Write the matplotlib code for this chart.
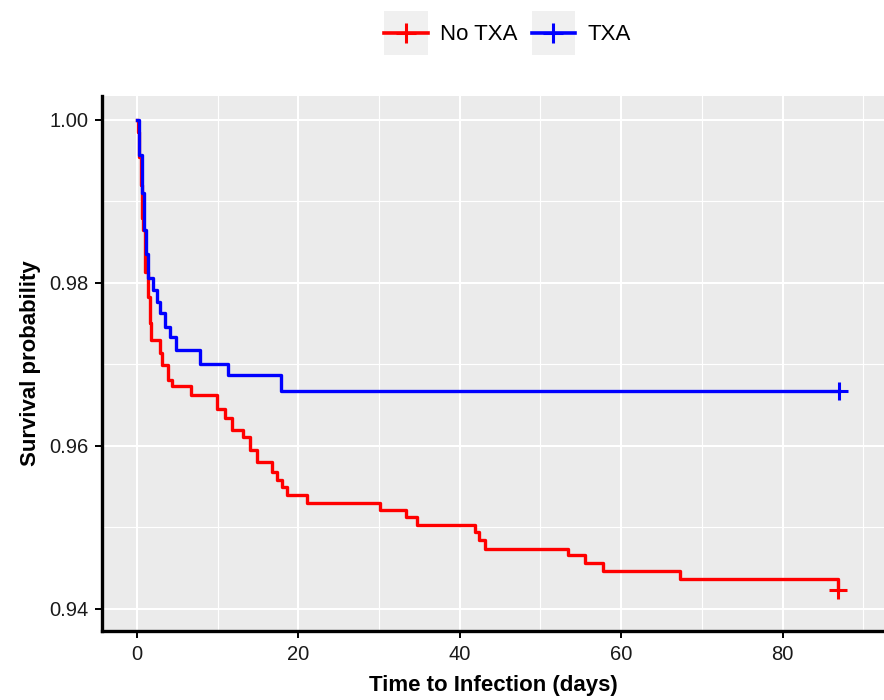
import matplotlib
matplotlib.use("Agg")
import matplotlib.pyplot as plt
from matplotlib.lines import Line2D
from matplotlib.patches import Rectangle
from matplotlib.legend_handler import HandlerLine2D

plt.rcParams["font.family"] = ["Liberation Sans", "DejaVu Sans"]

# Kaplan-Meier steps: (event time, survival after it)
notxa_time = [0, 0.15, 0.3, 0.45, 0.6, 0.8, 1.05, 1.35, 1.55, 1.75, 2.8, 3.1, 3.9,
              4.3, 6.7, 9.95, 10.9, 11.8, 13.1, 14.0, 14.9, 16.7, 17.4, 18.0,
              18.6, 21.1, 30.1, 33.3, 34.7, 41.9, 42.4, 43.1, 53.4, 55.5, 57.7,
              67.3, 86.9]
notxa_surv = [1.0, 0.9985, 0.9955, 0.9920, 0.9880, 0.9865, 0.9814, 0.9783, 0.9751,
              0.9730, 0.9714, 0.9699, 0.9681, 0.9673, 0.9663, 0.9645, 0.9634,
              0.9620, 0.9611, 0.9595, 0.9580, 0.9568, 0.9558, 0.9550, 0.9540,
              0.9530, 0.9521, 0.9513, 0.9503, 0.9495, 0.9485, 0.9474, 0.9466,
              0.9457, 0.9447, 0.9437, 0.9423]

txa_time = [0, 0.25, 0.65, 0.9, 1.1, 1.4, 2.0, 2.45, 2.9, 3.5, 4.1, 4.8, 7.8,
            11.3, 17.9, 87.0]
txa_surv = [1.0, 0.9957, 0.9910, 0.9865, 0.9836, 0.9806, 0.9791, 0.9777, 0.9763,
            0.9746, 0.9734, 0.9718, 0.9701, 0.9687, 0.9668, 0.9668]

groups = ["No TXA", "TXA"]
colors = ["#FF0000", "#0000FF"]


class KeyHandler(HandlerLine2D):
    # ggplot style legend key: grey box behind the line glyph
    def create_artists(self, legend, orig_handle, xdescent, ydescent,
                       width, height, fontsize, trans):
        bg = Rectangle((-xdescent, -ydescent - 0.9 * height), width, height * 2.8,
                       facecolor="#F0F0F0", edgecolor="none", transform=trans)
        arts = super().create_artists(legend, orig_handle, xdescent, ydescent,
                                      width, height, fontsize, trans)
        return [bg] + arts


fig = plt.figure(figsize=(8.84, 7.0), dpi=100)
ax = fig.add_axes([102 / 884, 1 - 631 / 700, (884 - 102) / 884, (631 - 96) / 700])
ax.set_facecolor("#EBEBEB")

for t, s, c in zip([notxa_time, txa_time], [notxa_surv, txa_surv], colors):
    ax.step(t, s, where="post", color=c, lw=2.4, zorder=3)
    ax.plot(t[-1], s[-1], marker="+", color=c, ms=13, mew=2.2, zorder=4)

ax.set_xlim(-4.34, 92.57)
ax.set_ylim(0.9373, 1.00294)
ax.set_xticks([0, 20, 40, 60, 80])
ax.set_xticks([10, 30, 50, 70, 90], minor=True)
ax.set_yticks([0.94, 0.96, 0.98, 1.00])
ax.set_yticklabels(["0.94", "0.96", "0.98", "1.00"])
ax.set_yticks([0.95, 0.97, 0.99], minor=True)
ax.grid(True, which="major", color="white", lw=1.5)
ax.grid(True, which="minor", color="white", lw=0.8)
ax.set_axisbelow(True)

for side in ["top", "right"]:
    ax.spines[side].set_visible(False)
for side in ["left", "bottom"]:
    ax.spines[side].set_linewidth(2.4)
    ax.spines[side].set_color("black")

ax.tick_params(which="major", length=5, width=1.4, color="black",
               labelsize=14.5, labelcolor="#1a1a1a", pad=5)
ax.tick_params(which="minor", length=0)

ax.set_xlabel("Time to Infection (days)", fontsize=16, fontweight="bold", labelpad=8)
ax.set_ylabel("Survival probability", fontsize=16, fontweight="bold", labelpad=6)

handles = [Line2D([], [], color=c, lw=2.6, marker="+", ms=14, mew=2.2) for c in colors]
fig.legend(handles, groups, loc="center", bbox_to_anchor=(0.574, 0.950), ncol=2,
           frameon=False, fontsize=16, handlelength=1.95, handletextpad=0.55,
           columnspacing=0.65, handler_map={Line2D: KeyHandler()})

fig.savefig("out.png", dpi=100)
